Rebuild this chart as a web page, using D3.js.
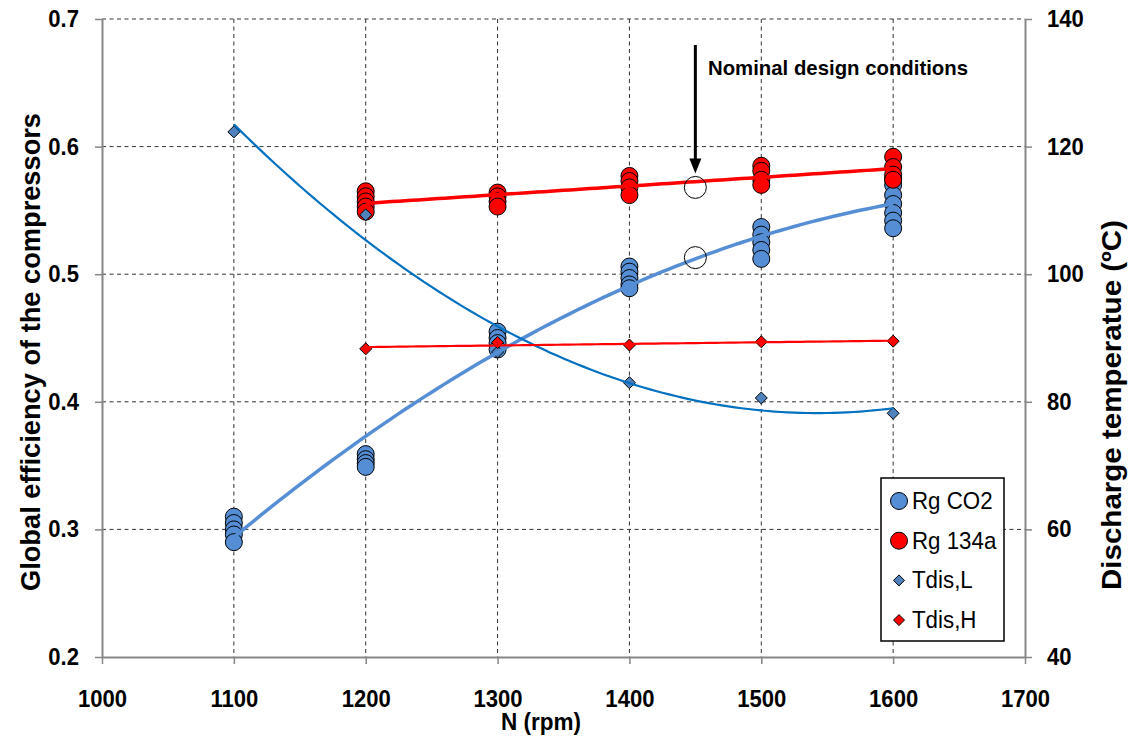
<!DOCTYPE html>
<html lang="en">
<head>
    <meta charset="UTF-8">
    <title>Compressor efficiency</title>
    <script src="https://d3js.org/d3.v7.min.js"></script>
    <style>
        body {margin: 0; background: white;}
        text {font-family: "Liberation Sans", Arial, sans-serif;}
    </style>
</head>
<body>
<script>
    const width = 1135;
    const height = 747;

    // data
    const rpm = [1100, 1200, 1300, 1400, 1500, 1600];
    const rgCO2 = [
        [0.310, 0.305, 0.300, 0.296, 0.290],
        [0.359, 0.355, 0.352, 0.349],
        [0.455, 0.450, 0.446, 0.441],
        [0.506, 0.502, 0.497, 0.492, 0.489],
        [0.537, 0.531, 0.525, 0.519, 0.512],
        [0.575, 0.570, 0.562, 0.555, 0.548, 0.542, 0.536]
    ];
    const rpm134a = [1200, 1300, 1400, 1500, 1600];
    const rg134a = [
        [0.565, 0.561, 0.557, 0.553, 0.549],
        [0.564, 0.561, 0.557, 0.553],
        [0.577, 0.573, 0.568, 0.562],
        [0.585, 0.581, 0.574, 0.570],
        [0.592, 0.584, 0.578, 0.574]
    ];
    const tdisL = [122.3, 109.3, 87.8, 83.0, 80.6, 78.2];
    const tdisH = [88.3, 89.3, 88.9, 89.4, 89.5];
    const nominalRpm = 1450;
    const nominalEff = [0.568, 0.513];

    const xTicks = [1000, 1100, 1200, 1300, 1400, 1500, 1600, 1700];
    const yTicks = [0.2, 0.3, 0.4, 0.5, 0.6, 0.7];
    const y2Ticks = [40, 60, 80, 100, 120, 140];

    const legendItems = [
        {label: "Rg CO2", shape: "circle", fill: "#558ED5"},
        {label: "Rg 134a", shape: "circle", fill: "#FF0000"},
        {label: "Tdis,L", shape: "diamond", fill: "#4F81BD"},
        {label: "Tdis,H", shape: "diamond", fill: "#FF0000"}
    ];

    const svg = d3.select("body").append("svg")
            .attr("width", width).attr("height", height);

    const x = d3.scaleLinear().domain([1000, 1700]).range([102, 1025]);
    const y = d3.scaleLinear().domain([0.2, 0.7]).range([657, 19]);
    const y2 = d3.scaleLinear().domain([40, 140]).range([657, 19]);

    // flatten groups into points
    const flat = (xs, groups) => xs.flatMap((r, i) => groups[i].map(v => ({x: r, v: v})));
    const co2Pts = flat(rpm, rgCO2);
    const r134Pts = flat(rpm134a, rg134a);
    const tLPts = rpm.map((r, i) => ({x: r, v: tdisL[i]}));
    const tHPts = rpm134a.map((r, i) => ({x: r, v: tdisH[i]}));

    // least squares polynomial (trendlines)
    function polyfit(pts, deg) {
        const n = deg + 1;
        const A = d3.range(n).map(() => d3.range(n + 1).map(() => 0));
        pts.forEach(p => {
            const t = (p.x - 1350) / 100;
            for (let i = 0; i < n; i++) {
                for (let j = 0; j < n; j++) A[i][j] += Math.pow(t, i + j);
                A[i][n] += p.v * Math.pow(t, i);
            }
        });
        for (let i = 0; i < n; i++) {
            for (let k = i + 1; k < n; k++) {
                const f = A[k][i] / A[i][i];
                for (let j = i; j <= n; j++) A[k][j] -= f * A[i][j];
            }
        }
        const c = new Array(n).fill(0);
        for (let i = n - 1; i >= 0; i--) {
            let s = A[i][n];
            for (let j = i + 1; j < n; j++) s -= A[i][j] * c[j];
            c[i] = s / A[i][i];
        }
        return xv => {
            const t = (xv - 1350) / 100;
            return c.reduce((s, ci, i) => s + ci * Math.pow(t, i), 0);
        };
    }

    // gridlines
    const grid = svg.append("g").attr("class", "grid")
            .style("stroke", "#333").style("stroke-width", 1).style("stroke-dasharray", "4,3.5");
    grid.selectAll("line.v").data(xTicks.slice(1, -1)).enter().append("line")
            .attr("x1", d => x(d)).attr("x2", d => x(d))
            .attr("y1", y(0.7)).attr("y2", y(0.2));
    grid.selectAll("line.h").data(yTicks.slice(1)).enter().append("line")
            .attr("x1", x(1000)).attr("x2", x(1700))
            .attr("y1", d => y(d)).attr("y2", d => y(d));

    // axes
    function styleAxis(g, sx) {
        g.select(".domain").style("stroke", "#868686").style("stroke-width", 2).style("fill", "none");
        g.selectAll(".tick line").style("stroke", "#868686").style("stroke-width", 1.5);
        g.selectAll(".tick text")
                .style("font-size", "23.5px").style("font-weight", "bold").style("fill", "#000")
                .each(function() {
                    const t = d3.select(this);
                    const tx = +t.attr("x") || 0;
                    t.attr("x", 0).attr("transform", `translate(${tx},0) scale(${sx},1)`);
                });
    }
    svg.append("g").attr("transform", `translate(0,${y(0.2)})`)
            .call(d3.axisBottom(x).tickValues(xTicks).tickFormat(d3.format("d"))
                    .tickSize(7).tickSizeOuter(0).tickPadding(26))
            .call(g => styleAxis(g, 0.94));
    svg.append("g").attr("transform", `translate(${x(1000)},0)`)
            .call(d3.axisLeft(y).tickValues(yTicks).tickFormat(d3.format(".1f"))
                    .tickSize(7).tickSizeOuter(0).tickPadding(16))
            .call(g => styleAxis(g, 0.94));
    svg.append("g").attr("transform", `translate(${x(1700)},0)`)
            .call(d3.axisRight(y2).tickValues(y2Ticks).tickSize(7).tickSizeOuter(0).tickPadding(15))
            .call(g => styleAxis(g, 0.94));

    // axis titles
    svg.append("text")
            .attr("transform", `translate(40,352) rotate(-90)`)
            .attr("text-anchor", "middle")
            .attr("textLength", 478).attr("lengthAdjust", "spacingAndGlyphs")
            .style("font-size", "28px").style("font-weight", "bold")
            .text("Global efficiency of the compressors");
    svg.append("text")
            .attr("transform", `translate(1121,405) rotate(-90)`)
            .attr("text-anchor", "middle")
            .attr("textLength", 370).attr("lengthAdjust", "spacingAndGlyphs")
            .style("font-size", "28px").style("font-weight", "bold")
            .text("Discharge temperatue (ºC)");
    svg.append("text")
            .attr("x", 541).attr("y", 730)
            .attr("text-anchor", "middle")
            .attr("textLength", 80).attr("lengthAdjust", "spacingAndGlyphs")
            .style("font-size", "23.5px").style("font-weight", "bold")
            .text("N (rpm)");

    // markers
    const diamond = s => `M0,${-s}L${s},0L0,${s}L${-s},0Z`;
    svg.append("g").selectAll("circle").data(co2Pts).enter().append("circle")
            .attr("cx", d => x(d.x)).attr("cy", d => y(d.v)).attr("r", 8.5)
            .style("fill", "#558ED5").style("stroke", "#000").style("stroke-width", 1);
    svg.append("g").selectAll("circle").data(r134Pts).enter().append("circle")
            .attr("cx", d => x(d.x)).attr("cy", d => y(d.v)).attr("r", 8.5)
            .style("fill", "#FF0000").style("stroke", "#000").style("stroke-width", 1);
    svg.append("g").selectAll("path").data(tLPts).enter().append("path")
            .attr("transform", d => `translate(${x(d.x)},${y2(d.v)})`)
            .attr("d", diamond(6))
            .style("fill", "#4F81BD").style("stroke", "#000").style("stroke-width", 1);
    svg.append("g").selectAll("path").data(tHPts).enter().append("path")
            .attr("transform", d => `translate(${x(d.x)},${y2(d.v)})`)
            .attr("d", diamond(6))
            .style("fill", "#FF0000").style("stroke", "#000").style("stroke-width", 1);

    // trendlines
    function trend(pts, deg, ys, color, w) {
        const f = polyfit(pts, deg);
        const x0 = d3.min(pts, d => d.x), x1 = d3.max(pts, d => d.x);
        const xs = d3.range(x0, x1 + 0.1, 5);
        svg.append("path")
                .datum(xs)
                .attr("d", d3.line().x(d => x(d)).y(d => ys(f(d))))
                .style("fill", "none").style("stroke", color).style("stroke-width", w);
    }
    trend(co2Pts, 2, y, "#558ED5", 3.5);
    trend(r134Pts, 1, y, "#FF0000", 3.5);
    trend(tLPts, 2, y2, "#0070C0", 2.2);
    trend(tHPts, 1, y2, "#FF0000", 2.2);

    // nominal design conditions
    svg.append("g").selectAll("circle").data(nominalEff).enter().append("circle")
            .attr("cx", x(nominalRpm)).attr("cy", d => y(d)).attr("r", 11)
            .style("fill", "none").style("stroke", "#000").style("stroke-width", 1);
    const ax = x(nominalRpm), tip = y(nominalEff[0]) - 14;
    svg.append("line")
            .attr("x1", ax).attr("x2", ax).attr("y1", 45).attr("y2", tip - 12)
            .style("stroke", "#000").style("stroke-width", 3);
    svg.append("path")
            .attr("d", `M${ax - 6},${tip - 15}L${ax + 6},${tip - 15}L${ax},${tip}Z`)
            .style("fill", "#000");
    svg.append("text")
            .attr("x", 708).attr("y", 75)
            .attr("textLength", 260).attr("lengthAdjust", "spacingAndGlyphs")
            .style("font-size", "21px").style("font-weight", "bold")
            .text("Nominal design conditions");

    // legend
    const legend = svg.append("g").attr("transform", "translate(881,478)");
    legend.append("rect").attr("width", 123).attr("height", 163)
            .style("fill", "white").style("stroke", "#000").style("stroke-width", 1.5);
    const item = legend.selectAll("g.item").data(legendItems).enter().append("g")
            .attr("class", "item")
            .attr("transform", (d, i) => `translate(18,${23 + i * 39.7})`);
    item.filter(d => d.shape === "circle").append("circle").attr("r", 8.5)
            .style("fill", d => d.fill).style("stroke", "#000").style("stroke-width", 1);
    item.filter(d => d.shape === "diamond").append("path").attr("d", diamond(5.5))
            .style("fill", d => d.fill).style("stroke", "#000").style("stroke-width", 1);
    item.append("text")
            .attr("transform", "translate(13,8) scale(0.93,1)")
            .style("font-size", "24px")
            .text(d => d.label);
</script>
</body>
</html>
